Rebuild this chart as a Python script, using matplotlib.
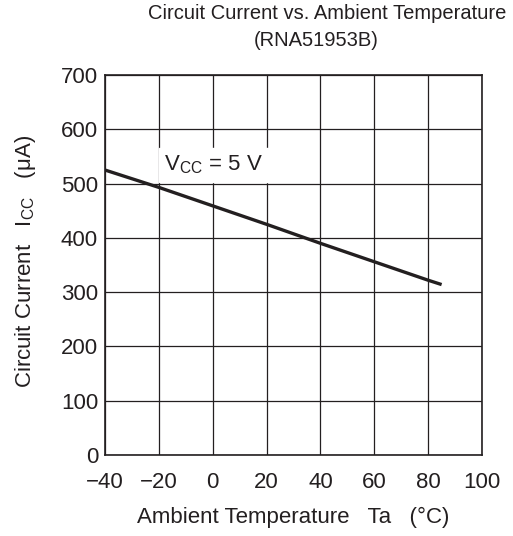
import matplotlib.pyplot as plt
import numpy as np

plt.rcParams['font.family'] = ['Liberation Sans', 'DejaVu Sans']

# Circuit current vs temperature
temp_c = [-40, -20, 0, 20, 40, 60, 80, 85]
icc_ua = [525, 493, 459, 425, 390, 356, 322, 314]

x_ticks = [-40, -20, 0, 20, 40, 60, 80, 100]
y_ticks = [0, 100, 200, 300, 400, 500, 600, 700]
x_tick_labels = ['\u221240', '\u221220', '0', '20', '40', '60', '80', '100']

text_col = '#231f20'
fs = 16

fig = plt.figure(figsize=(5.13, 5.36), dpi=100)
ax = fig.add_axes([0.2047, 0.1511, 0.7349, 0.7089])

ax.plot(temp_c, icc_ua, color=text_col, lw=2.4, solid_capstyle='butt')

ax.set_xlim(-40, 100)
ax.set_ylim(0, 700)
ax.set_xticks(x_ticks)
ax.set_xticklabels(x_tick_labels)
ax.set_yticks(y_ticks)
ax.grid(True, color=text_col, lw=0.9)
ax.tick_params(axis='both', length=0, labelsize=fs, colors=text_col)
ax.tick_params(axis='x', pad=12)
ax.tick_params(axis='y', pad=5)
for s in ax.spines.values():
    s.set_linewidth(1.2)
    s.set_color(text_col)

ax.text(-18, 534, r'V$_{\mathregular{CC}}$ = 5 V', fontsize=fs, color=text_col,
        va='center', ha='left', backgroundcolor='white')

ax.set_xlabel(r'Ambient Temperature   Ta   (°C)', fontsize=fs, color=text_col, va='center')
ax.xaxis.set_label_coords(0.5, -0.163)
ax.set_ylabel(r'Circuit Current   I$_{\mathregular{CC}}$   ($\mathregular{\mu}$A)', fontsize=fs,
              color=text_col, va='center')
ax.yaxis.set_label_coords(-0.21, 0.51)

fig.text(0.637, 0.9757, 'Circuit Current vs. Ambient Temperature', ha='center',
         va='center', fontsize=14.5, color=text_col)
fig.text(0.617, 0.925, '(RNA51953B)', ha='center', va='center', fontsize=14.5, color=text_col)

fig.savefig('out.png', dpi=100)
